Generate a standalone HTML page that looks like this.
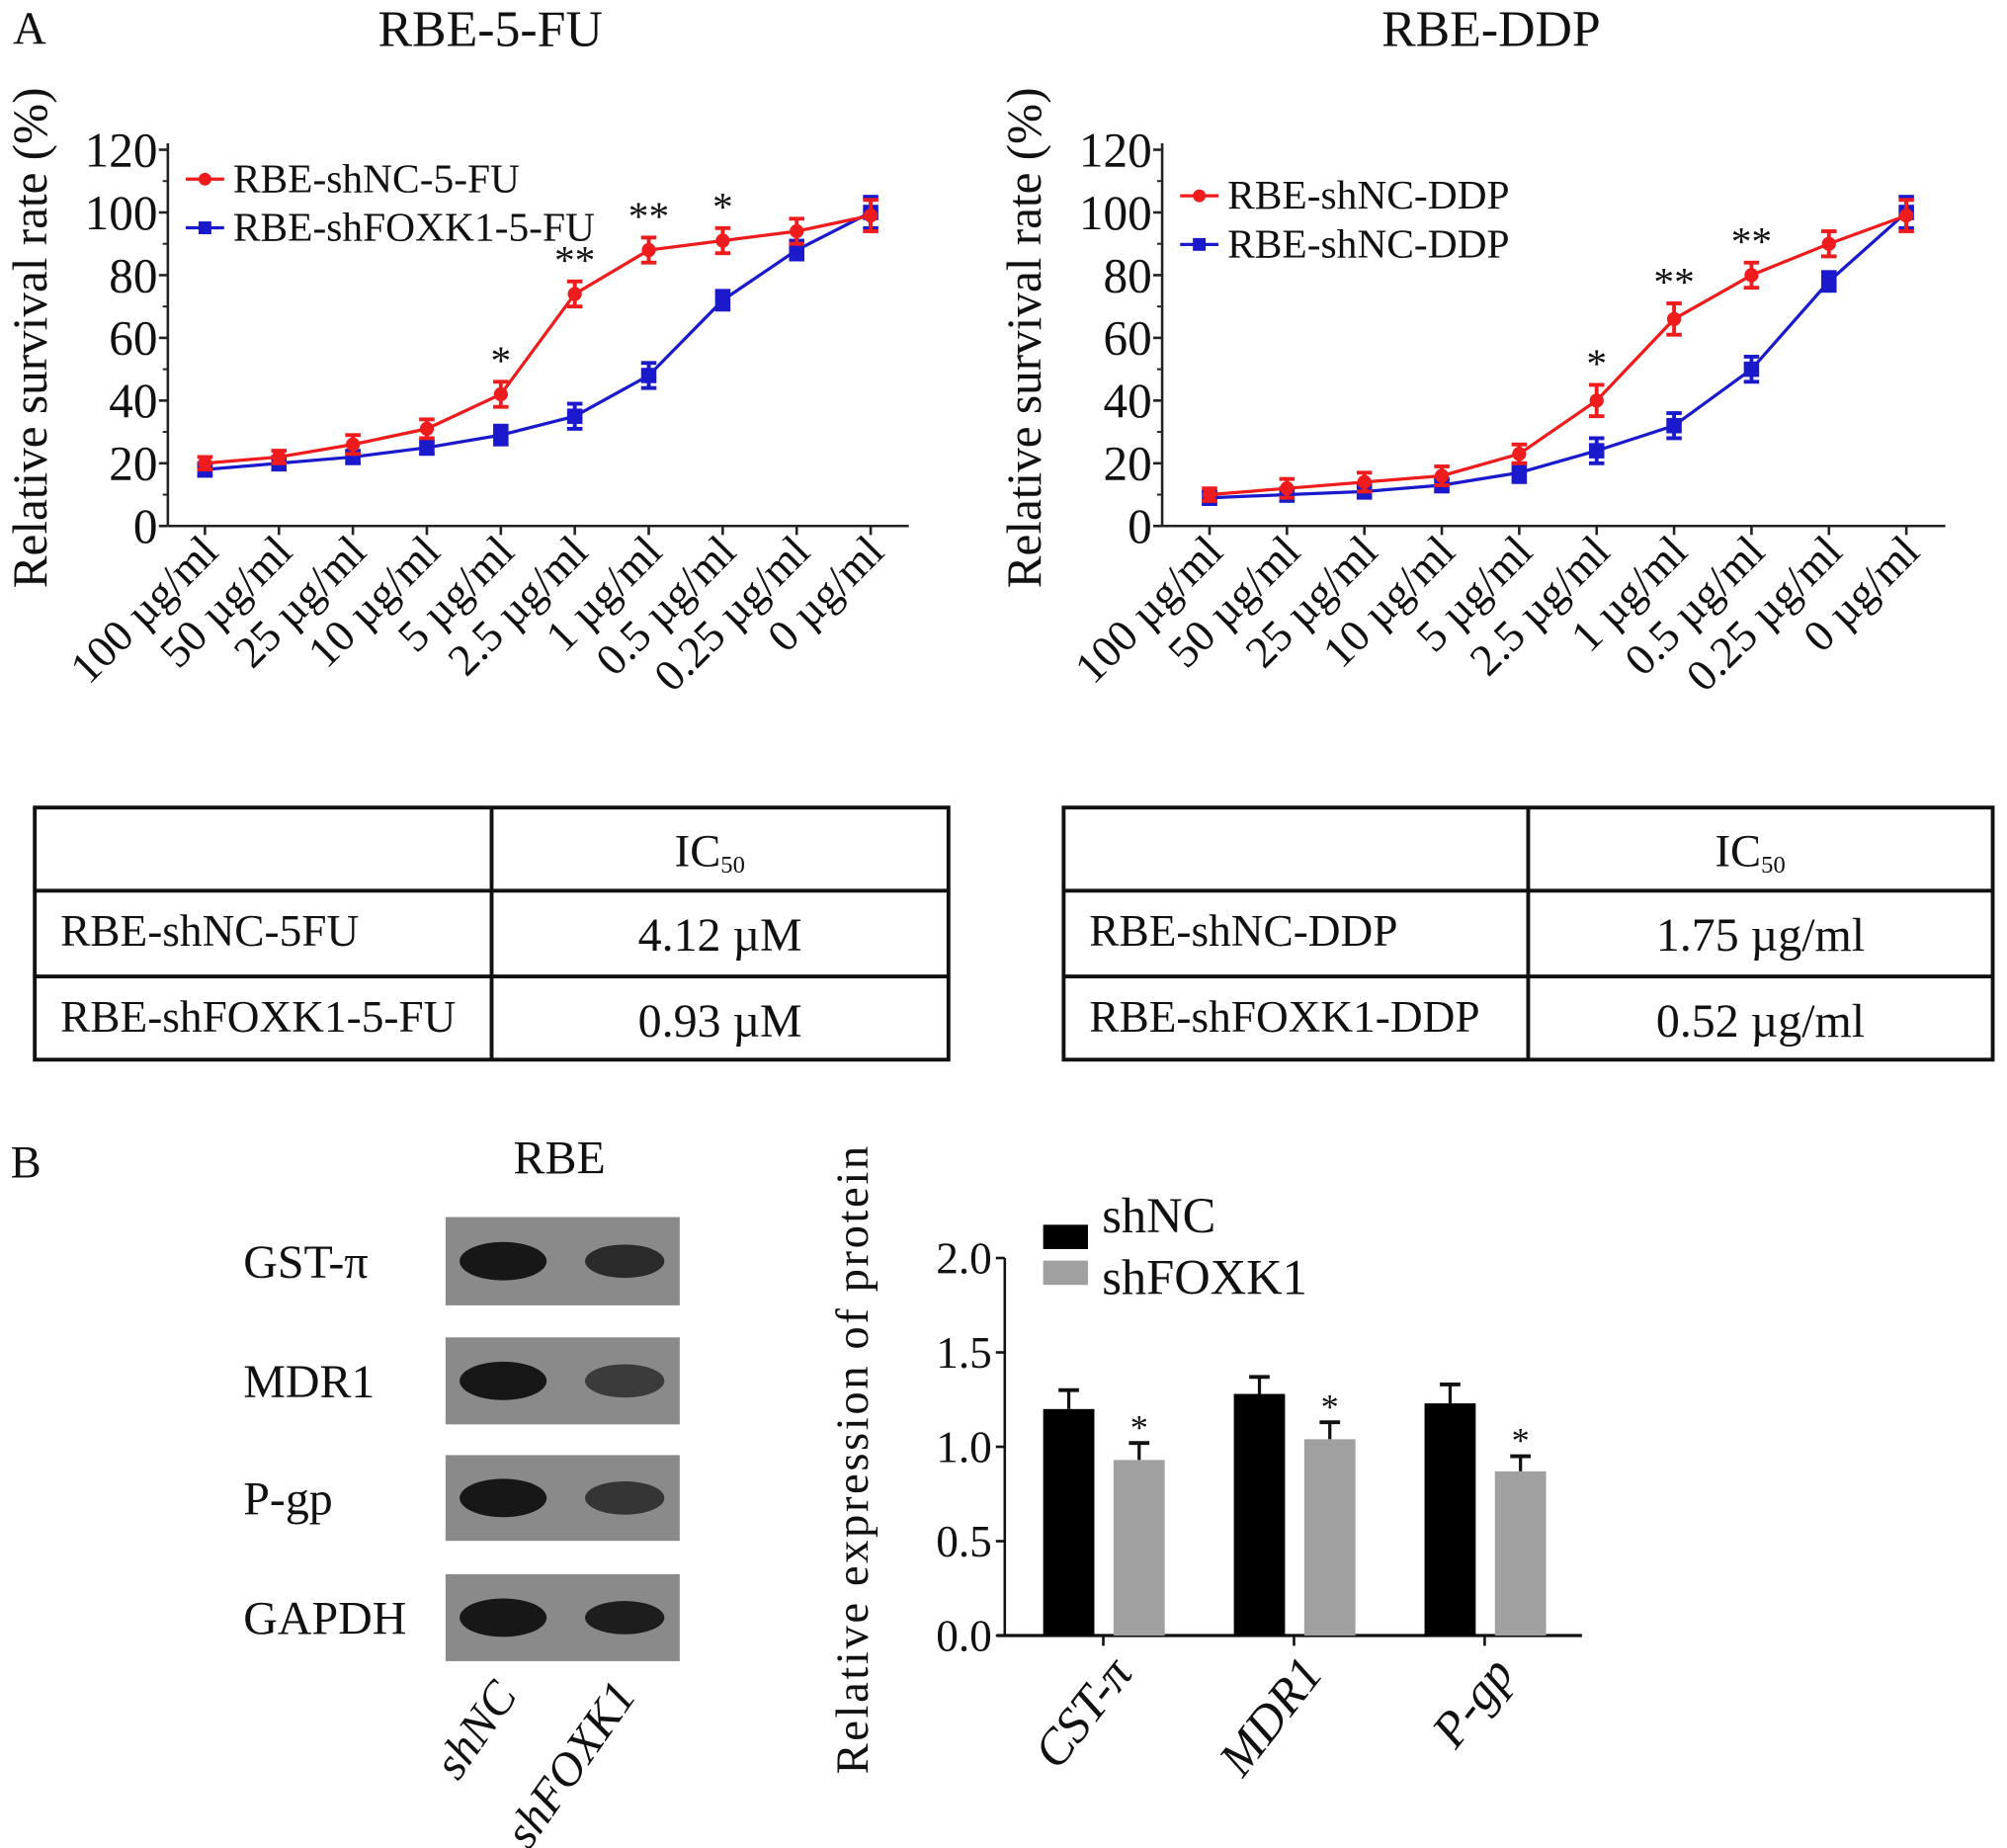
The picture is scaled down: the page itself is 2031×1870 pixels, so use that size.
<!DOCTYPE html>
<html><head><meta charset="utf-8"><style>
html,body{margin:0;padding:0;background:#fff}
svg{display:block}
text{font-family:"Liberation Serif",serif;fill:#111}
</style></head><body>
<svg id="fig" width="2031" height="1870" viewBox="0 0 1568 1444" xmlns="http://www.w3.org/2000/svg">
<g id="root"></g>
</svg>
<script>
const doses=["100  µg/ml","50  µg/ml","25  µg/ml","10  µg/ml","5  µg/ml","2.5  µg/ml","1  µg/ml","0.5  µg/ml","0.25  µg/ml","0  µg/ml"];
const yTicks=[0,20,40,60,80,100,120];
const fuRed=[20,22,26,31,42,74,88,91,94,99];
const fuRedErr=[2,2,3,3,4,4,4,4,4,5];
const fuBlue=[18,20,22,25,29,35,48,72,88,100];
const fuBlueErr=[2,2,2,2,3,4,4,3,3,5];
const fuStars=["","","","","*","**","**","*","",""];
const ddpRed=[10,12,14,16,23,40,66,80,90,99];
const ddpRedErr=[2,3,3,3,3,5,5,4,4,5];
const ddpBlue=[9,10,11,13,17,24,32,50,78,100];
const ddpBlueErr=[2,2,2,2,3,4,4,4,3,5];
const ddpStars=["","","","","","*","**","**","",""];
const barCats=["CST-π","MDR1","P-gp"];
const barNC=[1.2,1.28,1.23];
const barNCErr=[0.1,0.09,0.1];
const barKD=[0.93,1.04,0.87];
const barKDErr=[0.09,0.09,0.08];
const barTicks=["0.0","0.5","1.0","1.5","2.0"];

const NS="http://www.w3.org/2000/svg";
const root=document.getElementById('root');
function el(tag,attrs,parent,txt){const e=document.createElementNS(NS,tag);for(const k in attrs)e.setAttribute(k,attrs[k]);if(txt!==undefined)e.textContent=txt;(parent||root).appendChild(e);return e;}

function lineChart(o){
  const g=el('g',{});
  
  
  const X=i=>o.x0+o.dx*i, Y=v=>o.y0-(v/120)*(o.y0-o.y120);
  const t=el('text',{x:o.titleX,y:36,'font-size':40,'text-anchor':'middle'},g,o.title);
  
  el('line',{x1:o.ax,y1:o.y120-5,x2:o.ax,y2:o.y0,stroke:'#222','stroke-width':2},g);
  el('line',{x1:o.ax,y1:o.y0,x2:o.axEnd,y2:o.y0,stroke:'#222','stroke-width':2},g);
  yTicks.forEach(v=>{
    el('line',{x1:o.ax-7,y1:Y(v),x2:o.ax,y2:Y(v),stroke:'#222','stroke-width':2},g);
    if(v<120) el('line',{x1:o.ax-4,y1:Y(v+10),x2:o.ax,y2:Y(v+10),stroke:'#222','stroke-width':1.5},g);
    const tl=el('text',{x:o.ax-8,y:Y(v)+13,'font-size':38,'text-anchor':'end'},g,v);
    
  });
  const yl=el('text',{transform:`translate(${o.ax-95},${(o.y0+o.y120)/2-0}) rotate(-90)`,'font-size':38,'text-anchor':'middle'},g,'Relative survival rate (%)');
  
  doses.forEach((d,i)=>{
    el('line',{x1:X(i),y1:o.y0,x2:X(i),y2:o.y0+7,stroke:'#222','stroke-width':2},g);
    const xl=el('text',{transform:`translate(${X(i)+12},${o.y0+22}) rotate(-45)`,'font-size':35,'text-anchor':'end'},g,d);
    
  });
  [[o.blue,o.blueErr,'#1a1acc','s'],[o.red,o.redErr,'#ee1c1c','c']].forEach(([vals,errs,col,m])=>{
    const pl=el('polyline',{points:vals.map((v,i)=>X(i)+','+Y(v)).join(' '),fill:'none',stroke:col,'stroke-width':2.5},g);
    
    vals.forEach((v,i)=>{
      const e=errs[i];
      el('line',{x1:X(i),y1:Y(v+e),x2:X(i),y2:Y(v-e),stroke:col,'stroke-width':3},g);
      el('line',{x1:X(i)-6,y1:Y(v+e),x2:X(i)+6,y2:Y(v+e),stroke:col,'stroke-width':3},g);
      el('line',{x1:X(i)-6,y1:Y(v-e),x2:X(i)+6,y2:Y(v-e),stroke:col,'stroke-width':3},g);
      let p;
      if(m==='c') p=el('circle',{cx:X(i),cy:Y(v),r:5.5,fill:col},g);
      else p=el('rect',{x:X(i)-6,y:Y(v)-6,width:12,height:12,fill:col},g);
      
    });
  });
  o.stars.forEach((s,i)=>{ if(!s)return;
    const st=el('text',{x:X(i),y:Y(o.red[i]+o.redErr[i])-6,'font-size':32,'text-anchor':'middle'},g,s);
    
  });
  o.legend.forEach((lg,k)=>{
    const y=o.legY+k*38;
    el('line',{x1:o.ax+14,y1:y,x2:o.ax+44,y2:y,stroke:lg[1],'stroke-width':2.5},g);
    if(k===0) el('circle',{cx:o.ax+29,cy:y,r:5,fill:lg[1]},g); else el('rect',{x:o.ax+24,y:y-5,width:10,height:10,fill:lg[1]},g);
    const lt=el('text',{x:o.ax+51,y:y+10,'font-size':32},g,lg[0]);
    
  });
}
lineChart({name:'rbe-5fu-chart',title:'RBE-5-FU',titleX:383,ax:131,axEnd:710,x0:160,dx:57.8,y0:411,y120:117,red:fuRed,redErr:fuRedErr,blue:fuBlue,blueErr:fuBlueErr,stars:fuStars,legY:140,legend:[['RBE-shNC-5-FU','#ee1c1c'],['RBE-shFOXK1-5-FU','#1a1acc']]});
lineChart({name:'rbe-ddp-chart',title:'RBE-DDP',titleX:1165,ax:908,axEnd:1520,x0:945,dx:60.5,y0:411,y120:117,red:ddpRed,redErr:ddpRedErr,blue:ddpBlue,blueErr:ddpBlueErr,stars:ddpStars,legY:153,legend:[['RBE-shNC-DDP','#ee1c1c'],['RBE-shNC-DDP','#1a1acc']]});
const A=el('text',{x:10,y:34,'font-size':36},root,'A');

function table(x1,x2,split,rows,name){
  const g=el('g',{});
  const ys=[631,696,763,828];
  el('rect',{x:x1,y:631,width:x2-x1,height:197,fill:'none',stroke:'#111','stroke-width':3},g);
  el('line',{x1:x1,y1:696,x2:x2,y2:696,stroke:'#111','stroke-width':3},g);
  el('line',{x1:x1,y1:763,x2:x2,y2:763,stroke:'#111','stroke-width':3},g);
  el('line',{x1:split,y1:631,x2:split,y2:828,stroke:'#111','stroke-width':3},g);
  const h=el('text',{x:(split+x2)/2-8,y:677,'font-size':36,'text-anchor':'middle'},g);
  h.innerHTML='IC<tspan font-size="19" dy="5">50</tspan>';
  rows.forEach((r,i)=>{
    const a=el('text',{x:x1+20,y:ys[i+1]+43,'font-size':35},g,r[0]);
    
    const b=el('text',{x:(split+x2)/2,y:ys[i+1]+47,'font-size':37,'text-anchor':'middle'},g,r[1]);
    
  });
}
table(27,741,384,[['RBE-shNC-5FU','4.12  µM'],['RBE-shFOXK1-5-FU','0.93  µM']],'ic50-table-5fu');
table(831,1557,1194,[['RBE-shNC-DDP','1.75  µg/ml'],['RBE-shFOXK1-DDP','0.52  µg/ml']],'ic50-table-ddp');

// Panel B blots
const B=el('text',{x:8,y:920,'font-size':36},root,'B');
const rbe=el('text',{x:437,y:917,'font-size':37,'text-anchor':'middle'},root,'RBE');
const blotLabels=['GST-π','MDR1','P-gp','GAPDH'];
const blotY=[[951,1020],[1045,1113],[1137,1204],[1230,1298]];
const bandInt=[[0.95,0.8],[0.95,0.65],[0.95,0.7],[0.95,0.9]];
blotLabels.forEach((lab,i)=>{
  const [t,b]=blotY[i];
  const r=el('rect',{x:348,y:t,width:183,height:b-t,fill:'#8a8a8a'});
  
  const cy=(t+b)/2;
  el('ellipse',{cx:393,cy:cy,rx:34,ry:15,fill:'#111',opacity:bandInt[i][0]});
  el('ellipse',{cx:488,cy:cy,rx:31,ry:13,fill:'#111',opacity:bandInt[i][1]});
  const l=el('text',{x:190,y:cy+13,'font-size':37},root,lab);
  
});
[['shNC',405,1325],['shFOXK1',498,1325]].forEach(([s,x,y])=>{
  const l=el('text',{transform:`translate(${x},${y}) rotate(-55)`,'font-size':37,'font-style':'italic','text-anchor':'end'},root,s);
  
});

// bar chart
(function(){
  const g=el('g',{});
  const ax=785,y0=1278,y2=983,xe=1236;
  const Y=v=>y0-(v/2)*(y0-y2);
  el('line',{x1:ax,y1:y2,x2:ax,y2:y0,stroke:'#111','stroke-width':2},g);
  el('line',{x1:ax-6,y1:y0,x2:xe,y2:y0,stroke:'#111','stroke-width':2.5},g);
  barTicks.forEach(t=>{
    const v=parseFloat(t);
    el('line',{x1:ax-7,y1:Y(v),x2:ax,y2:Y(v),stroke:'#111','stroke-width':2},g);
    const l=el('text',{x:ax-10,y:Y(v)+12,'font-size':35,'text-anchor':'end'},g,t);
    
  });
  const yl=el('text',{transform:`translate(678,1140) rotate(-90)`,'font-size':36,'text-anchor':'middle','letter-spacing':'2'},g,'Relative expression of protein');
  
  barCats.forEach((c,i)=>{
    const cx=862+i*149;
    [[barNC,barNCErr,'#000',cx-47],[barKD,barKDErr,'#a0a0a0',cx+8]].forEach(([vals,errs,col,x],k)=>{
      const v=vals[i],e=errs[i];
      el('line',{x1:x+20,y1:Y(v),x2:x+20,y2:Y(v+e),stroke:'#111','stroke-width':2.5},g);
      el('line',{x1:x+12,y1:Y(v+e),x2:x+28,y2:Y(v+e),stroke:'#111','stroke-width':3},g);
      const r=el('rect',{x:x,y:Y(v),width:40,height:y0-Y(v),fill:col},g);
      
      if(k===1){const s=el('text',{x:x+20,y:Y(v+e)-3,'font-size':28,'text-anchor':'middle'},g,'*');
        }
    });
    el('line',{x1:cx,y1:y0,x2:cx,y2:y0+8,stroke:'#111','stroke-width':2},g);
    const l=el('text',{transform:`translate(${cx+24},${y0+30}) rotate(-52)`,'font-size':39,'font-style':'italic','text-anchor':'end'},g,c);
    
  });
  [['shNC','#000',957],['shFOXK1','#a0a0a0',985]].forEach(([n,c,y])=>{
    el('rect',{x:815,y:y,width:35,height:19,fill:c},g);
    const t=el('text',{x:861,y:y+(n==='shNC'?6:26),'font-size':39},g,n);
    
  });
})();
</script>
</body></html>
